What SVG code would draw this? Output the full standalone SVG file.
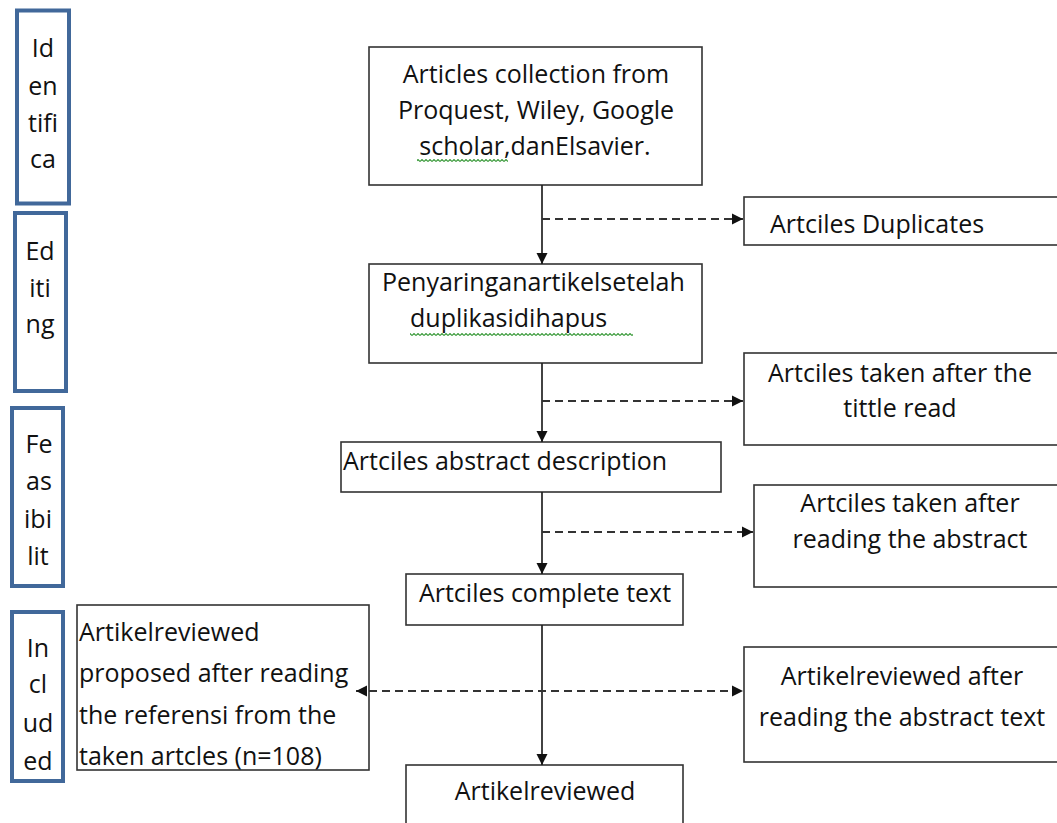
<svg xmlns="http://www.w3.org/2000/svg" width="1057" height="823" viewBox="0 0 1057 823">
<style>
.bbox{fill:#fff;stroke:#41689a;stroke-width:4}
.box{fill:#fff;stroke:#333;stroke-width:1.6}
.t{font-family:"Open Sans","Noto Sans","Liberation Sans",sans-serif;font-size:25px;fill:#111}
.c{text-anchor:middle}
.solid{stroke:#222;stroke-width:1.7;fill:none}
.dash{stroke:#333;stroke-width:2;fill:none;stroke-dasharray:8,5}
</style>
<defs>
<marker id="ah" viewBox="0 0 10 10" refX="10" refY="5" markerWidth="11" markerHeight="12" markerUnits="userSpaceOnUse" orient="auto-start-reverse">
<path d="M0,0 L10,5 L0,10 z" fill="#111"/>
</marker>
<pattern id="wavy" width="4" height="3" patternUnits="userSpaceOnUse">
<path d="M0,2.5 L2,0.5 L4,2.5" stroke="#3a9a3a" fill="none" stroke-width="1.1"/>
</pattern>
</defs>

<g id="stage-identifica">
<rect class="bbox" x="17" y="10.5" width="52" height="193"/>
<text class="t c" x="43" y="57">Id</text>
<text class="t c" x="43" y="95">en</text>
<text class="t c" x="43" y="132">tifi</text>
<text class="t c" x="43" y="168">ca</text>
</g>
<g id="stage-editing">
<rect class="bbox" x="15" y="213" width="51" height="178"/>
<text class="t c" x="40" y="260">Ed</text>
<text class="t c" x="40" y="297">iti</text>
<text class="t c" x="40" y="333">ng</text>
</g>
<g id="stage-feasibility">
<rect class="bbox" x="12" y="408" width="51" height="178"/>
<text class="t c" x="39" y="453">Fe</text>
<text class="t c" x="39" y="490">as</text>
<text class="t c" x="38" y="528">ibi</text>
<text class="t c" x="38" y="565">lit</text>
</g>
<g id="stage-included">
<rect class="bbox" x="12" y="612" width="51" height="169"/>
<text class="t c" x="38" y="657">In</text>
<text class="t c" x="38" y="693">cl</text>
<text class="t c" x="38" y="732">ud</text>
<text class="t c" x="38" y="770">ed</text>
</g>

<g id="node-collection">
<rect class="box" x="369" y="47" width="333" height="138"/>
<text class="t c" x="536" y="83">Articles collection from</text>
<text class="t c" x="536" y="119">Proquest, Wiley, Google</text>
<text class="t c" x="535" y="155">scholar,danElsavier.</text>
<rect x="417" y="159" width="91" height="3" fill="url(#wavy)"/>
</g>

<g id="node-duplicates">
<rect class="box" x="744" y="197" width="320" height="48"/>
<text class="t" x="770" y="233">Artciles Duplicates</text>
</g>

<g id="node-screening">
<rect class="box" x="369" y="264" width="333" height="99"/>
<text class="t" x="382" y="291">Penyaringanartikelsetelah</text>
<text class="t" x="410" y="327">duplikasidihapus</text>
<rect x="410" y="333" width="223" height="3" fill="url(#wavy)"/>
</g>

<g id="node-title">
<rect class="box" x="744" y="353" width="320" height="92"/>
<text class="t c" x="900" y="382">Artciles taken after the</text>
<text class="t c" x="900" y="417">tittle read</text>
</g>

<g id="node-abstract-desc">
<rect class="box" x="341" y="442" width="380" height="50"/>
<text class="t" x="343" y="470">Artciles abstract description</text>
</g>

<g id="node-after-abstract">
<rect class="box" x="754" y="485" width="310" height="102"/>
<text class="t c" x="910" y="512">Artciles taken after</text>
<text class="t c" x="910" y="548">reading the abstract</text>
</g>

<g id="node-complete">
<rect class="box" x="406" y="574" width="277" height="51"/>
<text class="t c" x="545" y="602">Artciles complete text</text>
</g>

<g id="node-proposed">
<rect class="box" x="77" y="605" width="292" height="165"/>
<text class="t" x="79" y="641">Artikelreviewed</text>
<text class="t" x="79" y="682">proposed after reading</text>
<text class="t" x="79" y="724">the referensi from the</text>
<text class="t" x="79" y="765">taken artcles (n=108)</text>
</g>

<g id="node-reviewed-after">
<rect class="box" x="744" y="647" width="320" height="115"/>
<text class="t c" x="902" y="685">Artikelreviewed after</text>
<text class="t c" x="902" y="726">reading the abstract text</text>
</g>

<g id="node-reviewed">
<rect class="box" x="406" y="765" width="277" height="70"/>
<text class="t c" x="545" y="800">Artikelreviewed</text>
</g>

<g id="connectors">
<line class="solid" x1="542" y1="185" x2="542" y2="264" marker-end="url(#ah)"/>
<line class="solid" x1="542" y1="363" x2="542" y2="442" marker-end="url(#ah)"/>
<line class="solid" x1="542" y1="492" x2="542" y2="574" marker-end="url(#ah)"/>
<line class="solid" x1="542" y1="625" x2="542" y2="765" marker-end="url(#ah)"/>
<line class="dash" x1="542" y1="219" x2="743" y2="219" marker-end="url(#ah)"/>
<line class="dash" x1="542" y1="401" x2="743" y2="401" marker-end="url(#ah)"/>
<line class="dash" x1="542" y1="532" x2="753" y2="532" marker-end="url(#ah)"/>
<line class="dash" x1="356" y1="691" x2="743" y2="691" marker-start="url(#ah)" marker-end="url(#ah)"/>
</g>
</svg>
